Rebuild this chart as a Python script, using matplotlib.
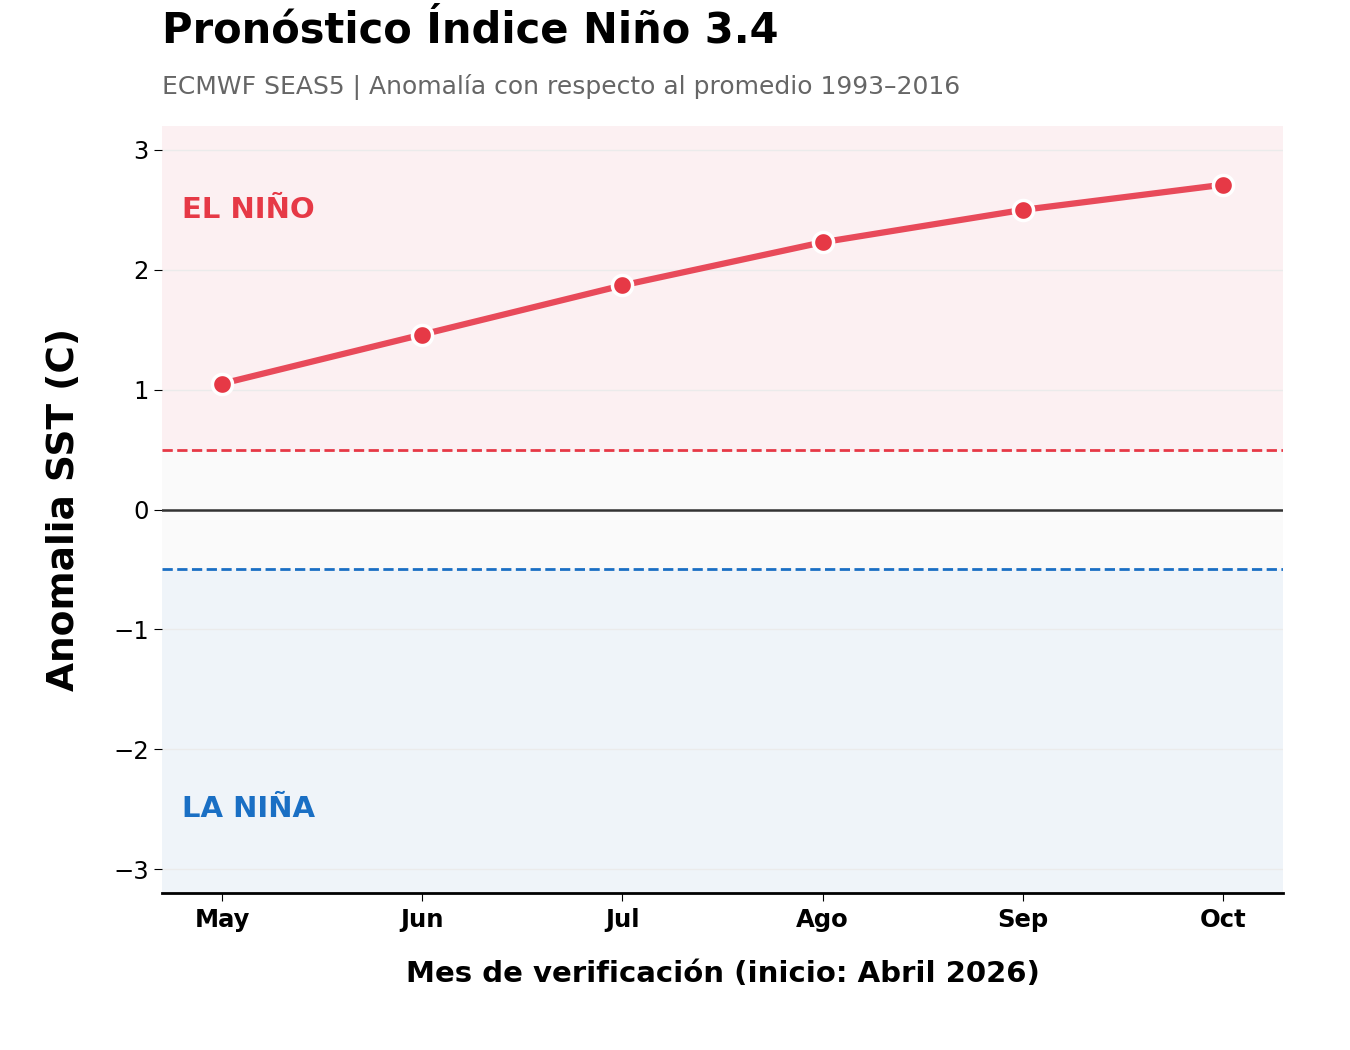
import matplotlib
matplotlib.use("Agg")
import matplotlib.pyplot as plt

# Niño 3.4 forecast, ECMWF SEAS5
months = ["May", "Jun", "Jul", "Ago", "Sep", "Oct"]
anomaly = [1.05, 1.46, 1.87, 2.23, 2.50, 2.71]
nino_threshold = 0.5
nina_threshold = -0.5

fig = plt.figure(figsize=(13.5, 10.5), dpi=100)
ax = fig.add_axes([0.12, 0.1495, 0.8304, 0.7305])

ax.set_facecolor("#fafafa")
ax.set_ylim(-3.2, 3.2)
ax.set_xlim(-0.3, len(months) - 0.7)

# shaded regimes
ax.axhspan(nino_threshold, 3.2, color="#fcf0f2", zorder=0)
ax.axhspan(-3.2, nina_threshold, color="#eff4f9", zorder=0)

ax.grid(axis="y", color="#ebebeb", linewidth=1, zorder=1)
ax.axhline(0, color="#333333", linewidth=1.8, zorder=2)
ax.axhline(nino_threshold, color="#e63946", linestyle="--", linewidth=2, zorder=2)
ax.axhline(nina_threshold, color="#1a6fc4", linestyle="--", linewidth=2, zorder=2)

x = list(range(len(months)))
ax.plot(x, anomaly, color="#e84a5a", linewidth=4.5, zorder=3)
ax.plot(x, anomaly, "o", color="#e63946", markersize=14.5,
        markeredgecolor="white", markeredgewidth=2.5, zorder=4)

ax.text(-0.2, 2.5, "EL NIÑO", color="#e63946", fontsize=21, fontweight="bold",
        va="center", ha="left")
ax.text(-0.2, -2.5, "LA NIÑA", color="#1a6fc4", fontsize=21, fontweight="bold",
        va="center", ha="left")

ax.set_xticks(x)
ax.set_xticklabels(months, fontsize=17.5, fontweight="bold")
ax.set_yticks([-3, -2, -1, 0, 1, 2, 3])
ax.tick_params(axis="y", labelsize=17.5, length=6)
ax.tick_params(axis="x", length=6, pad=5)

for side in ["top", "right", "left"]:
    ax.spines[side].set_visible(False)
ax.spines["bottom"].set_linewidth(2)

ax.set_xlabel("Mes de verificación (inicio: Abril 2026)", fontsize=21,
              fontweight="bold", labelpad=20)
ax.set_ylabel("Anomalia SST (C)", fontsize=27, fontweight="bold", labelpad=22)

fig.text(0.12, 0.971, "Pronóstico Índice Niño 3.4", fontsize=30,
         fontweight="bold", va="center", ha="left")
fig.text(0.12, 0.917, "ECMWF SEAS5 | Anomalía con respecto al promedio 1993–2016",
         fontsize=18, color="#666666", va="center", ha="left")

fig.savefig("out.png", dpi=100)
